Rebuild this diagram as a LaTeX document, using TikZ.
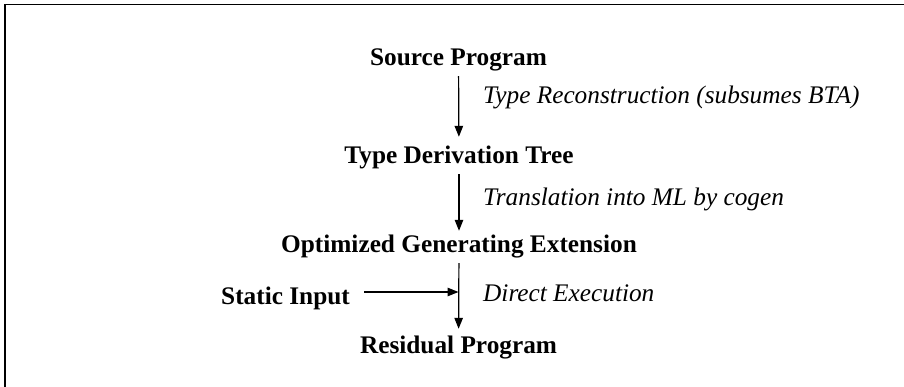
\documentclass[tikz,border=0pt]{standalone}
\usepackage{fontspec}
\setmainfont{Liberation Serif}
\usetikzlibrary{arrows.meta}
\begin{document}
\begin{tikzpicture}[x=1pt,y=-1pt,
  every node/.style={font=\fontsize{25.3}{30}\selectfont},
  stage/.style={font=\fontsize{25.3}{30}\selectfont\bfseries, anchor=base, text height=17pt, text depth=5pt, inner ysep=5pt, inner xsep=4pt},
  lbl/.style={font=\fontsize{25.3}{30}\selectfont\itshape, anchor=base west, inner sep=0pt},
  flow/.style={line width=1.2pt, -{Triangle[length=11pt,width=8.5pt]}},
  frame/.style={line width=1.5pt}]
\useasboundingbox (0,0) rectangle (904,387);
\draw[frame] (5,4.5) -- (904,4.5);
\draw[frame] (5,4.5) -- (5,387);
\node[stage] (sp) at (458.5,66) {Source Program};
\node[stage] (tdt) at (459,164) {Type Derivation Tree};
\node[stage] (oge) at (459,253) {Optimized Generating Extension};
\node[stage] (rp) at (458.5,353) {Residual Program};
\node[stage] (si) at (285.5,304) {Static Input};
\coordinate (j) at (458.5,292);
\draw[flow, shorten >=5pt] (sp) -- (tdt);
\draw[flow] (tdt) -- (oge);
\draw[flow, shorten >=2pt] (oge) -- (rp);
\draw[flow, shorten <=10pt] (si.east |- j) -- (j);
\node[lbl] (l1) at (483,104) {Type Reconstruction (subsumes BTA)};
\node[lbl] (l2) at (483,206) {Translation into ML by cogen};
\node[lbl] (l3) at (483,301) {Direct Execution};
\end{tikzpicture}
\end{document}
